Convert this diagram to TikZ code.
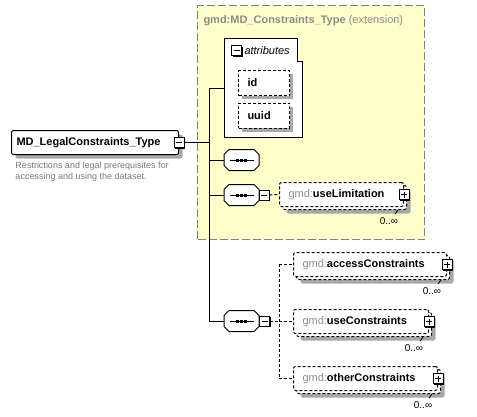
\documentclass[tikz,border=0pt]{standalone}
\usepackage{fontspec}
\setmainfont{Liberation Sans}
\usetikzlibrary{shadows}
\definecolor{extfill}{RGB}{255,255,204}
\definecolor{extline}{RGB}{128,128,128}
\definecolor{shadegray}{RGB}{168,168,168}
\definecolor{nsgray}{RGB}{140,140,140}
\definecolor{docgray}{RGB}{120,120,120}
\begin{document}
\begin{tikzpicture}[x=1pt,y=-1pt,line width=1pt,font=\fontsize{11}{13}\selectfont]
  \tikzset{
    shade/.style={drop shadow={shadow xshift=4pt,shadow yshift=-4pt,fill=shadegray,opacity=1}},
    extbox/.style={draw=extline,fill=extfill,dash pattern=on 8pt off 3pt,anchor=north west,inner sep=0pt},
    elembox/.style={draw,fill=white,rounded corners=2pt,minimum height=24pt,inner xsep=5pt,align=left,anchor=north west},
    optbox/.style={elembox,inner xsep=9pt,dash pattern=on 3pt off 2pt},
    attrbox/.style={draw,fill=white,dash pattern=on 3pt off 2pt,minimum height=25pt,text width=33pt,inner xsep=9pt,
      align=left,anchor=north west,font=\fontsize{11}{13}\selectfont\bfseries,
      drop shadow={shadow xshift=3.5pt,shadow yshift=-3.5pt,fill=shadegray,opacity=1}},
    seqbox/.style={minimum width=34pt,minimum height=20pt,inner sep=0pt},
    togglebox/.style={draw,fill=white,minimum size=10pt,inner sep=0pt,line width=0.8pt,
      drop shadow={shadow xshift=1pt,shadow yshift=-1pt,fill=black,opacity=1}},
    minus/.style={togglebox,path picture={
        \draw[line width=0.8pt] ([xshift=2pt]path picture bounding box.west) -- ([xshift=-2pt]path picture bounding box.east);}},
    plus/.style={togglebox,path picture={
        \draw[line width=0.8pt] ([xshift=2pt]path picture bounding box.west) -- ([xshift=-2pt]path picture bounding box.east)
          ([yshift=2pt]path picture bounding box.south) -- ([yshift=-2pt]path picture bounding box.north);}},
    card/.style={font=\fontsize{10}{12}\selectfont,inner sep=0pt},
    optline/.style={dash pattern=on 3pt off 2pt},
  }
  \useasboundingbox (0,0) rectangle (477,416);

  % extension of gmd:MD_Constraints_Type
  \node[extbox,minimum width=227pt,minimum height=234pt] (ext) at (197,5) {};
  \node[anchor=base west,inner sep=0pt,text=nsgray] (exttitle) at (203,23.3)
    {\textbf{gmd:MD\_Constraints\_Type} (extension)};

  % attribute group
  \draw[fill=white] (224,38) -- (297,38) -- (297,61) -- (302,61) -- (302,137) -- (224,137) -- cycle;
  \node[minus] (attrmin) at (236.5,50.5) {};
  \node[anchor=base west,inner sep=0pt,font=\fontsize{11}{13}\selectfont\itshape] (attrlbl) at (244,54) {attributes};
  \node[attrbox] (id) at (238,70) {id};
  \node[attrbox] (uuid) at (238,102.5) {uuid};

  % the element itself
  \node[elembox,shade,text width=157pt,font=\fontsize{11}{13}\selectfont\bfseries] (main) at (11,130)
    {MD\_LegalConstraints\_Type};
  \node[minus] (mainmin) at (main.east) {};
  \node[anchor=north west,inner sep=0pt,align=left,text=docgray,font=\fontsize{9}{11.5}\selectfont] (maindoc) at (15,161)
    {Restrictions and legal prerequisites for\\accessing and using the dataset.};

  % sequences
  \node[seqbox] (seqa) at (241.5,160) {};
  \node[seqbox] (seqb) at (241.5,195) {};
  \node[seqbox] (seqc) at (241.5,321) {};
  \foreach \s in {seqa,seqb,seqc} {
    \fill[shadegray,shift={(4,4)}] ([xshift=5pt]\s.north west) -- ([xshift=-5pt]\s.north east) -- ([yshift=-5pt]\s.north east)
      -- ([yshift=5pt]\s.south east) -- ([xshift=-5pt]\s.south east) -- ([xshift=5pt]\s.south west)
      -- ([yshift=5pt]\s.south west) -- ([yshift=-5pt]\s.north west) -- cycle;
    \draw[fill=white] ([xshift=5pt]\s.north west) -- ([xshift=-5pt]\s.north east) -- ([yshift=-5pt]\s.north east)
      -- ([yshift=5pt]\s.south east) -- ([xshift=-5pt]\s.south east) -- ([xshift=5pt]\s.south west)
      -- ([yshift=5pt]\s.south west) -- ([yshift=-5pt]\s.north west) -- cycle;
    \draw ([xshift=-12pt]\s.center) -- ([xshift=12pt]\s.center);
    \foreach \d in {-4,0,4}
      \fill ([xshift=\d pt]\s.center) +(-1.5,-1.5) rectangle +(1.5,1.5);
  }
  \node[minus] (seqbmin) at (264,195) {};
  \node[minus] (seqcmin) at (264.5,321) {};

  % child elements, all 0..oo
  \foreach \nm/\x/\y/\w/\tw in {useLimitation/279/182/124/106, accessConstraints/293/252/153/135,
      useConstraints/293/309/135/117, otherConstraints/293/366/144/126} {
    \node[optbox,shade,minimum width=\w pt] (\nm-b) at (\x+3,\y+3) {};
    \node[optbox,text width=\tw pt] (\nm) at (\x,\y) {{\color{nsgray}gmd:}\textbf{\nm}};
    \node[plus] (\nm-t) at (\nm.east) {};
    \node[card] (\nm-c) at ([xshift=-18pt,yshift=-11pt]\nm-b.south east) {0..∞};
    \draw[line width=0.8pt] ([xshift=-9pt]\nm-b.south east) -- ++(-3,4);
  }

  % connectors
  \coordinate (trktop) at (209,88);
  \coordinate (trkbot) at (209,321);
  \coordinate (attrin) at (224,88);
  \coordinate (bustop) at (279,264);
  \coordinate (busbot) at (279,378);
  \draw (mainmin.east) -- (mainmin.east -| trktop);
  \draw (trktop) -- (trkbot);
  \draw (trktop) -- (attrin);
  \draw (seqa.west -| trktop) -- (seqa.west);
  \draw (seqb.west -| trktop) -- (seqb.west);
  \draw (trkbot) -- (seqc.west);
  \draw[optline] (seqbmin.east) -- (useLimitation.west);
  \draw[optline] (seqcmin.east) -- (seqcmin.east -| bustop);
  \draw[optline] (bustop) -- (busbot);
  \foreach \nm in {accessConstraints,useConstraints,otherConstraints}
    \draw[optline] (\nm.west -| bustop) -- (\nm.west);
\end{tikzpicture}
\end{document}
